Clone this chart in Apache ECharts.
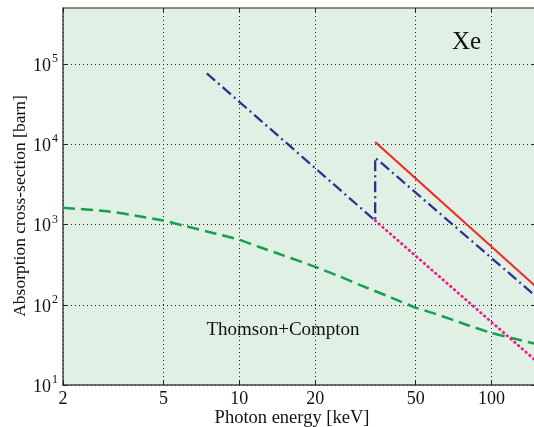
<!DOCTYPE html>
<html><head><meta charset="utf-8">
<script src="https://cdn.jsdelivr.net/npm/echarts@6/dist/echarts.min.js"></script>
<style>html,body{margin:0;padding:0;background:#fff}#c{width:534px;height:427px}</style>
</head><body><div id="c"></div>
<script>
// ---- data ----
const xTickValues = [2, 5, 10, 20, 50, 100];
const yTickValues = [10, 100, 1000, 10000, 100000];
const xRange = [2, 150];
const yRange = [10, 500000];
const comptonE = [2, 3, 4, 5, 6, 8, 10, 12, 15, 20, 25, 30, 40, 50, 60, 80, 100, 120, 150];
const comptonV = [1615, 1466, 1270, 1125, 970, 775, 645, 525, 410, 297, 225, 177, 123, 92, 77, 56, 44.5, 38.5, 32.5];
const photoE = [7.43, 34.56, 34.56, 150];
const photoV = [76600, 1120, 6820, 127];
const redE = [34.56, 150];
const redV = [10690, 168];
const dotE = [34.56, 150];
const dotV = [1120, 20];
const annotations = ['Xe', 'Thomson+Compton'];
const xTitle = 'Photon energy [keV]';
const yTitle = 'Absorption cross-section [barn]';

const pairs = (xs, ys) => xs.map((x, i) => [x, ys[i]]);
const FONT = 'Liberation Serif';
const supDigits = v => String(Math.round(Math.log10(v)));

const chart = echarts.init(document.getElementById('c'), null, {renderer: 'canvas'});
const gridLine = {show: true, lineStyle: {color: '#222', width: 1, type: [1, 3]}};
chart.setOption({
  animation: false,
  backgroundColor: '#ffffff',
  grid: {left: 63, top: 8, width: 473, height: 377, containLabel: false, outerBoundsMode: 'none',
         show: true, backgroundColor: '#e0f0e4', borderWidth: 0},
  xAxis: [{
    type: 'log', logBase: 10, min: xRange[0], max: xRange[1], position: 'bottom',
    axisLine: {show: true, onZero: false, lineStyle: {color: '#444', width: 1.5}},
    axisTick: {show: true, inside: true, length: 4, customValues: xTickValues, lineStyle: {color: '#222'}},
    axisLabel: {show: true, customValues: xTickValues, margin: 5, color: '#111',
                fontFamily: FONT, fontSize: 18, formatter: v => String(v)},
    splitLine: gridLine, minorTick: {show: false}, minorSplitLine: {show: false}
  }, {
    type: 'log', logBase: 10, min: xRange[0], max: xRange[1], position: 'top',
    axisLine: {show: true, onZero: false, lineStyle: {color: '#666', width: 1.5}},
    axisTick: {show: true, inside: true, length: 4, customValues: xTickValues, lineStyle: {color: '#222'}},
    axisLabel: {show: false}, splitLine: {show: false}
  }],
  yAxis: [{
    type: 'log', logBase: 10, min: yRange[0], max: yRange[1], position: 'left',
    axisLine: {show: true, onZero: false, lineStyle: {color: '#444', width: 1.5}},
    axisTick: {show: true, inside: true, length: 4, customValues: yTickValues, lineStyle: {color: '#222'}},
    axisLabel: {show: true, customValues: yTickValues, margin: 5, color: '#111',
      formatter: v => '{b|10}{s|' + supDigits(v) + '}',
      rich: {b: {fontFamily: FONT, fontSize: 18, color: '#111', padding: [4, 0, 0, 0]},
             s: {fontFamily: FONT, fontSize: 12, color: '#111', verticalAlign: 'top', padding: [0, 0, 10, 1]}}},
    splitLine: gridLine, minorTick: {show: false}, minorSplitLine: {show: false}
  }, {
    type: 'log', logBase: 10, min: yRange[0], max: yRange[1], position: 'right',
    axisLine: {show: false},
    axisTick: {show: true, inside: true, length: 4, customValues: yTickValues, lineStyle: {color: '#222'}},
    axisLabel: {show: false}, splitLine: {show: false}
  }],
  series: [
    {type: 'line', name: 'Thomson+Compton', data: pairs(comptonE, comptonV), showSymbol: false, smooth: 0.2,
     lineStyle: {color: '#12a150', width: 2.5, type: [12, 6]}, z: 3},
    {type: 'line', name: 'photo', data: pairs(photoE, photoV), showSymbol: false,
     lineStyle: {color: '#2e3192', width: 2.3, type: [11, 4, 2, 4]}, z: 4},
    {type: 'line', name: 'red', data: pairs(redE, redV), showSymbol: false,
     lineStyle: {color: '#ee2a2a', width: 2.2}, z: 5},
    {type: 'line', name: 'dotted', data: pairs(dotE, dotV), showSymbol: false,
     lineStyle: {color: '#ec1c8c', width: 2.8, type: [0.5, 4.5], cap: 'round'}, z: 4}
  ],
  graphic: [
    {type: 'text', left: 452, top: 30, style: {text: annotations[0], fontFamily: FONT, fontSize: 25, fill: '#111'}},
    {type: 'text', x: 283, y: 330, style: {text: annotations[1], fontFamily: FONT, fontSize: 19, fill: '#111', align: 'center', verticalAlign: 'middle'}},
    {type: 'text', x: 292, y: 418, style: {text: xTitle, fontFamily: FONT, fontSize: 18.5, fill: '#111', align: 'center', verticalAlign: 'middle'}},
    {type: 'text', x: 20, y: 206, rotation: Math.PI / 2, style: {text: yTitle, fontFamily: FONT, fontSize: 17.5, fill: '#111', align: 'center', verticalAlign: 'middle'}}
  ]
});
</script></body></html>
